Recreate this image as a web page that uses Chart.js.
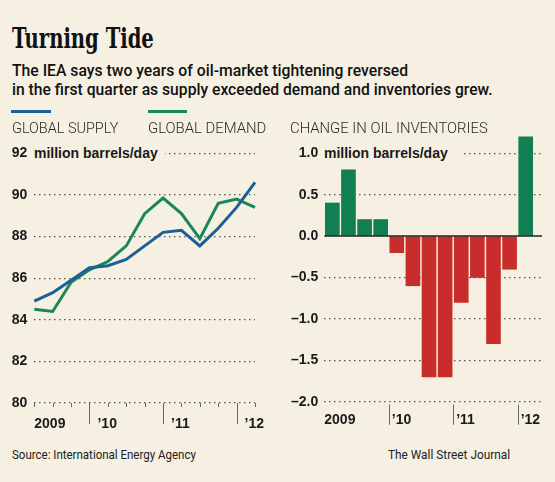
<!DOCTYPE html>
<html>
<head>
<meta charset="utf-8">
<script src="https://cdn.jsdelivr.net/npm/chart.js@4"></script>
<style>
body { margin: 0; width: 555px; height: 482px; background: #f6f0e3; position: relative; overflow: hidden;
       font-family: Roboto, "Liberation Sans", sans-serif; color: #1a1a1a; }
.abs { position: absolute; white-space: nowrap; transform-origin: 0 0; }
canvas { position: absolute; }
#title { left: 12px; top: 25px; font: bold 27px/27px "DejaVu Serif Condensed", "DejaVu Serif", serif; color: #111; }
.dek { left: 12px; font-size: 17px; line-height: 19px; font-weight: 500; color: #111; }
.key { top: 121px; font-size: 15px; line-height: 15px; font-weight: 300; color: #2a2a2a; }
.swatch { position: absolute; top: 110px; height: 3px; }
.unit { font: bold 14px/16px "Liberation Sans", Arial, sans-serif; top: 145px; background: #f6f0e3; padding-right: 7px; }
.foot { top: 447px; font-size: 13px; line-height: 15px; color: #222; }
</style>
</head>
<body>
<canvas id="supplyDemand" width="280" height="340" style="left:0;top:100px"></canvas>
<canvas id="inventories" width="275" height="340" style="left:280px;top:100px"></canvas>

<div id="title" class="abs" data-w="142">Turning Tide</div>
<div class="abs dek" style="top:61px" data-w="396">The IEA says two years of oil-market tightening reversed</div>
<div class="abs dek" style="top:80px" data-w="481">in the first quarter as supply exceeded demand and inventories grew.</div>

<div class="swatch" style="left:11px;width:40px;background:#1d5f96"></div>
<div class="abs key" style="left:12px" data-w="106">GLOBAL SUPPLY</div>
<div class="swatch" style="left:148px;width:39px;background:#19875a"></div>
<div class="abs key" style="left:148px" data-w="118">GLOBAL DEMAND</div>
<div class="abs key" style="left:290px" data-w="198">CHANGE IN OIL INVENTORIES</div>

<div class="abs unit" style="left:34px">million barrels/day</div>
<div class="abs unit" style="left:324px;padding-right:14px">million barrels/day</div>

<div class="abs foot" style="left:12px" data-w="184">Source: International Energy Agency</div>
<div class="abs foot" style="left:388px" data-w="122">The Wall Street Journal</div>

<script>
// quarterly, 2009 Q1 .. 2012 Q1
const quarters = ['2009 Q1', '2009 Q2', '2009 Q3', '2009 Q4', '2010 Q1', '2010 Q2', '2010 Q3', '2010 Q4',
                  '2011 Q1', '2011 Q2', '2011 Q3', '2011 Q4', '2012 Q1'];
const supply = [84.9, 85.3, 85.9, 86.5, 86.6, 86.9, 87.55, 88.2, 88.3, 87.55, 88.4, 89.4, 90.6];
const demand = [84.5, 84.4, 85.8, 86.4, 86.8, 87.55, 89.1, 89.85, 89.1, 87.9, 89.6, 89.8, 89.4];
const inventoryChange = [0.4, 0.8, 0.2, 0.2, -0.2, -0.6, -1.7, -1.7, -0.8, -0.5, -1.3, -0.4, 1.2];
const yearLabels = ['2009', '\u201910', '\u201911', '\u201912'];

const BLUE = '#1d5f96';
const GREEN = '#19875a';
const BAR_GREEN = '#117f52';
const BAR_RED = '#c82d2b';
const GRID = '#555';
const FONT = '"Liberation Sans", Arial, sans-serif';

// squeeze headline/labels to the narrow widths of the original type
function fitWidths() {
    document.querySelectorAll('[data-w]').forEach(el => {
        el.style.transform = 'scaleX(' + (+el.dataset.w / el.offsetWidth) + ')';
    });
}
fitWidths();
document.fonts.ready.then(fitWidths);

// year separators + labels under the plot
const yearAxis = {
    id: 'yearAxis',
    afterDraw(chart, args, opts) {
        const ctx = chart.ctx;
        const x = chart.scales.x;
        const base = chart.chartArea.bottom;
        ctx.save();
        ctx.strokeStyle = '#666';
        ctx.lineWidth = 1;
        ctx.beginPath();
        if (opts.minorLength) {
            chart.data.labels.forEach((l, i) => {
                const px = Math.round(x.getPixelForValue(i)) + 0.5;
                ctx.moveTo(px, base);
                ctx.lineTo(px, base + opts.minorLength);
            });
        }
        opts.separators.forEach(v => {
            const px = Math.round(x.getPixelForValue(v)) + 0.5;
            ctx.moveTo(px, base + opts.sepGap);
            ctx.lineTo(px, base + opts.sepLength);
        });
        ctx.stroke();
        ctx.fillStyle = '#1a1a1a';
        ctx.font = 'bold 14px ' + FONT;
        ctx.textAlign = 'left';
        ctx.textBaseline = 'alphabetic';
        opts.labels.forEach((t, j) => {
            const px = j === 0 ? x.getPixelForValue(opts.start) : x.getPixelForValue(opts.separators[j - 1]) + opts.labelOffset;
            ctx.fillText(t, px, base + opts.baseline);
        });
        ctx.restore();
    }
};

const zeroLine = {
    id: 'zeroLine',
    afterDatasetsDraw(chart) {
        const ctx = chart.ctx;
        const y = Math.round(chart.scales.y.getPixelForValue(0));
        ctx.save();
        ctx.strokeStyle = '#222';
        ctx.lineWidth = 1.5;
        ctx.beginPath();
        ctx.moveTo(chart.chartArea.left, y);
        ctx.lineTo(chart.chartArea.right + 1, y);
        ctx.stroke();
        ctx.restore();
    }
};

new Chart(document.getElementById('supplyDemand'), {
    type: 'line',
    data: {
        labels: quarters,
        datasets: [
            { label: 'Global supply', data: supply, borderColor: BLUE, borderWidth: 3, pointRadius: 0, clip: false },
            { label: 'Global demand', data: demand, borderColor: GREEN, borderWidth: 3, pointRadius: 0, clip: false }
        ]
    },
    options: {
        responsive: false,
        animation: false,
        layout: { padding: { top: 53.3, right: 25, bottom: 37, left: 0 } },
        plugins: {
            legend: { display: false },
            tooltip: { enabled: false },
            yearAxis: { separators: [3, 7, 11], labels: yearLabels, start: 0, labelOffset: 8,
                        minorLength: 4, sepGap: 0, sepLength: 21, baseline: 25 }
        },
        scales: {
            x: { type: 'category', offset: false, display: false },
            y: {
                min: 80, max: 92,
                ticks: { stepSize: 2, padding: 7, color: '#1a1a1a', font: { family: FONT, size: 14, weight: 'bold' } },
                grid: { color: GRID, lineWidth: 1.2, drawTicks: false },
                border: { display: false, dash: [1.5, 3.5] },
                afterFit: s => { s.width = 34.3; }
            }
        }
    },
    plugins: [yearAxis]
});

new Chart(document.getElementById('inventories'), {
    type: 'bar',
    data: {
        datasets: [{
            label: 'Change in oil inventories',
            data: inventoryChange.map((v, i) => ({ x: i, y: v })),
            backgroundColor: c => c.parsed.y >= 0 ? BAR_GREEN : BAR_RED,
            barThickness: 14,
            clip: false
        }]
    },
    options: {
        responsive: false,
        animation: false,
        layout: { padding: { top: 53.3, right: 14, bottom: 38.3, left: 0 } },
        plugins: {
            legend: { display: false },
            tooltip: { enabled: false },
            yearAxis: { separators: [3.5, 7.5, 11.5], labels: yearLabels, start: -0.5, labelOffset: 3,
                        minorLength: 0, sepGap: 3, sepLength: 23, baseline: 22.5 }
        },
        scales: {
            x: { type: 'linear', min: -0.5, max: 12.95, offset: false, display: false },
            y: {
                min: -2, max: 1,
                ticks: {
                    stepSize: 0.5, padding: 6, color: '#1a1a1a',
                    font: { family: FONT, size: 14, weight: 'bold' },
                    callback: v => (v < 0 ? '\u2013' : '') + Math.abs(v).toFixed(1)
                },
                grid: { color: c => c.tick.value === 0 ? 'rgba(0,0,0,0)' : GRID, lineWidth: 1.2, drawTicks: false },
                border: { display: false, dash: [1.5, 3.5] },
                afterFit: s => { s.width = 44.3; }
            }
        }
    },
    plugins: [yearAxis, zeroLine]
});
</script>
</body>
</html>
